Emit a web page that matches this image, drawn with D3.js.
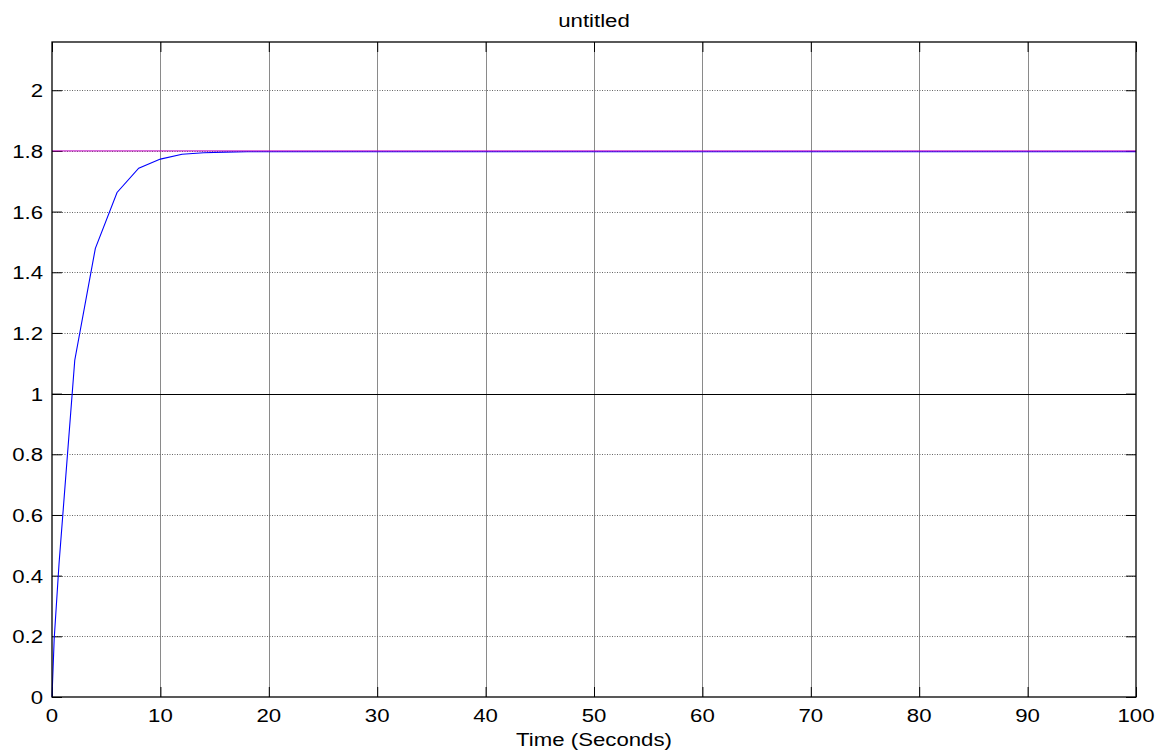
<!DOCTYPE html>
<html><head><meta charset="utf-8">
<script src="https://cdn.jsdelivr.net/npm/d3@7"></script>
<style>
body{margin:0;background:#fff;}
text{font-family:Arial,"Liberation Sans",Helvetica,sans-serif;fill:#000;}
</style></head>
<body>
<svg id="chart" width="1165" height="753"></svg>
<script>
// Data
const timeValues = [0, 0.2, 0.65, 2.1, 4, 6, 8, 10, 12, 14, 16, 18, 20, 30, 40, 50, 60, 70, 80, 90, 100];
const outputValues = [0, 0.19, 0.44, 1.11, 1.479, 1.663, 1.743, 1.773, 1.789, 1.794, 1.796, 1.797, 1.797, 1.797, 1.797, 1.797, 1.797, 1.797, 1.797, 1.797, 1.797];
const refTime = [0, 100];
const refValues = [1.8, 1.8];
const xTicks = [0, 10, 20, 30, 40, 50, 60, 70, 80, 90, 100];
const yTicks = [0, 0.2, 0.4, 0.6, 0.8, 1, 1.2, 1.4, 1.6, 1.8, 2];
const titleText = "untitled";
const xLabelText = "Time (Seconds)";

const W = 1165, H = 753;
const m = {left: 52, right: 29, top: 42, bottom: 56};
const svg = d3.select("#chart");
const x = d3.scaleLinear().domain([0, 100]).range([m.left, W - m.right]);
const y = d3.scaleLinear().domain([0, 2.159]).range([H - m.bottom, m.top]);
const FS = 18.5, SX = 1.2;

function stext(px, py, str, anchor) {
  svg.append("text")
    .attr("transform", `translate(${px},${py}) scale(${SX},1)`)
    .attr("text-anchor", anchor)
    .attr("font-size", FS)
    .text(str);
}

// grid
const g = svg.append("g");
g.selectAll("line.vg").data(xTicks.slice(1, -1)).join("line")
  .attr("x1", d => Math.round(x(d)) + 0.5).attr("x2", d => Math.round(x(d)) + 0.5)
  .attr("y1", m.top).attr("y2", H - m.bottom)
  .attr("stroke", "#8a8a8a").attr("stroke-width", 1);
g.selectAll("line.hg").data(yTicks.slice(1)).join("line")
  .attr("x1", m.left).attr("x2", W - m.right)
  .attr("y1", d => Math.round(y(d)) + 0.5).attr("y2", d => Math.round(y(d)) + 0.5)
  .attr("stroke", d => d === 1 ? "#000" : "#666")
  .attr("stroke-dasharray", d => d === 1 ? null : "1,1.5")
  .attr("stroke-width", 1);

// ticks via axes (inward)
const tl = 10;
svg.append("g").attr("transform", `translate(${m.left},0)`)
  .call(d3.axisRight(y).tickValues(yTicks).tickSize(tl).tickFormat(""))
  .call(a => a.select(".domain").remove());
svg.append("g").attr("transform", `translate(${W - m.right},0)`)
  .call(d3.axisLeft(y).tickValues(yTicks).tickSize(tl).tickFormat(""))
  .call(a => a.select(".domain").remove());
svg.append("g").attr("transform", `translate(0,${H - m.bottom})`)
  .call(d3.axisTop(x).tickValues(xTicks).tickSize(tl).tickFormat(""))
  .call(a => a.select(".domain").remove());
svg.append("g").attr("transform", `translate(0,${m.top})`)
  .call(d3.axisBottom(x).tickValues(xTicks).tickSize(tl).tickFormat(""))
  .call(a => a.select(".domain").remove());
svg.selectAll(".tick line").attr("stroke", "#000");

// lines
const line = d3.line().x(d => x(d[0])).y(d => y(d[1]));
svg.append("path").datum(timeValues.map((t, i) => [t, outputValues[i]]))
  .attr("d", line).attr("fill", "none").attr("stroke", "#0000ff").attr("stroke-width", 1.1);
svg.append("path").datum(refTime.map((t, i) => [t, refValues[i]]))
  .attr("d", line).attr("fill", "none").attr("stroke", "#c000c0").attr("stroke-width", 1);

// frame
svg.append("rect").attr("x", m.left).attr("y", m.top)
  .attr("width", W - m.left - m.right).attr("height", H - m.top - m.bottom)
  .attr("fill", "none").attr("stroke", "#000").attr("stroke-width", 1.3);

// labels
yTicks.forEach(v => stext(m.left - 9, y(v) + 7, d3.format("~g")(v), "end"));
xTicks.forEach(v => stext(x(v), H - m.bottom + 25, String(v), "middle"));
stext((m.left + W - m.right) / 2, 27, titleText, "middle");
stext((m.left + W - m.right) / 2, 746, xLabelText, "middle");
</script>
</body></html>
